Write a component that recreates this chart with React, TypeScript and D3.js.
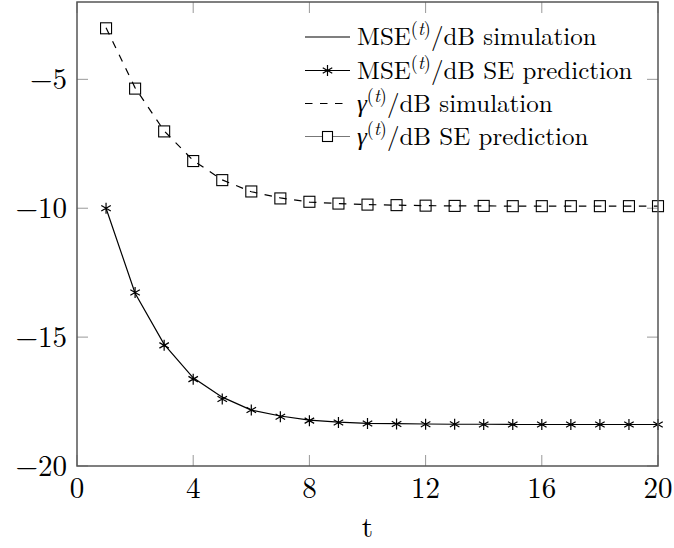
import React from 'react';
import * as d3 from 'd3';

const tValues = [1, 2, 3, 4, 5, 6, 7, 8, 9, 10, 11, 12, 13, 14, 15, 16, 17, 18, 19, 20];
const mseSimulation = [-10.0, -13.3, -15.28, -16.58, -17.33, -17.83, -18.06, -18.22, -18.3, -18.35, -18.36, -18.37, -18.38, -18.38, -18.39, -18.39, -18.39, -18.39, -18.39, -18.39];
const mseSE = [-10.0, -13.27, -15.32, -16.63, -17.4, -17.83, -18.09, -18.24, -18.31, -18.35, -18.37, -18.38, -18.38, -18.39, -18.39, -18.39, -18.39, -18.39, -18.39, -18.39];
const gammaSimulation = [-3.0, -5.33, -7.0, -8.15, -8.9, -9.36, -9.6, -9.76, -9.82, -9.86, -9.88, -9.9, -9.91, -9.91, -9.92, -9.92, -9.92, -9.92, -9.92, -9.92];
const gammaSE = [-3.02, -5.36, -7.02, -8.17, -8.91, -9.35, -9.62, -9.75, -9.82, -9.86, -9.88, -9.9, -9.91, -9.91, -9.92, -9.92, -9.92, -9.92, -9.92, -9.92];
const xTicks = [0, 4, 8, 12, 16, 20];
const yTicks = [-20, -15, -10, -5];

const W = 674;
const H = 548;
const plot = { left: 77, right: 658, top: 2, bottom: 466 };
const FONT = '"Latin Modern Roman", "Liberation Serif"';

const x = d3.scaleLinear().domain([0, 20]).range([plot.left, plot.right]);
const y = d3.scaleLinear().domain([-20, -2]).range([plot.bottom, plot.top]);

const Star = ({ cx, cy, r = 5.5 }: { cx: number; cy: number; r?: number }) => {
  const arms = [90, 30, -30].map(a => {
    const rad = (a * Math.PI) / 180;
    const dx = r * Math.cos(rad);
    const dy = r * Math.sin(rad);
    return `M${cx - dx},${cy + dy}L${cx + dx},${cy - dy}`;
  });
  return <path d={arms.join('')} stroke="#000" strokeWidth={1.2} fill="none" />;
};

const Square = ({ cx, cy, s = 11 }: { cx: number; cy: number; s?: number }) => (
  <rect x={cx - s / 2} y={cy - s / 2} width={s} height={s} fill="none" stroke="#000" strokeWidth={1.1} />
);

// legend label: base, superscript (t), rest
const Label = ({ x0, y0, base, italicBase, rest }: { x0: number; y0: number; base: string; italicBase?: boolean; rest: string }) => (
  <text x={x0} y={y0}>
    <tspan fontStyle={italicBase ? 'italic' : 'normal'}>{base}</tspan>
    <tspan fontSize={18} dy={-10}>(</tspan>
    <tspan fontSize={18} fontStyle="italic">t</tspan>
    <tspan fontSize={18}>)</tspan>
    <tspan dy={10}>{rest}</tspan>
  </text>
);

export default function App() {
  const line = d3.line<number>().x((_, i) => x(tValues[i])).y(d => y(d));

  const legendRows = [37, 70.5, 103.5, 136.5];
  const lx0 = 305;
  const lx1 = 350;
  const tx = 357;
  const lfs = 25;
  const font = { fontFamily: FONT };

  return (
    <svg width={W} height={H} style={{ position: 'absolute', left: 0, top: 0, background: '#fff' }}>
      {/* ticks, inside on all four sides */}
      {xTicks.map(v => (
        <g key={'xt' + v}>
          <line x1={x(v)} x2={x(v)} y1={plot.bottom} y2={plot.bottom - 11} stroke="#999" strokeWidth={1} />
          <line x1={x(v)} x2={x(v)} y1={plot.top} y2={plot.top + 11} stroke="#999" strokeWidth={1} />
          <text x={x(v)} y={498} fontSize={29} textAnchor="middle" fill="#000" style={font}>{v}</text>
        </g>
      ))}
      {yTicks.map(v => (
        <g key={'yt' + v}>
          <line x1={plot.left} x2={plot.left + 11} y1={y(v)} y2={y(v)} stroke="#999" strokeWidth={1} />
          <line x1={plot.right} x2={plot.right - 11} y1={y(v)} y2={y(v)} stroke="#999" strokeWidth={1} />
          <text x={67} y={y(v) + 10} fontSize={29} textAnchor="end" fill="#000" style={font}>{'\u2212' + Math.abs(v)}</text>
        </g>
      ))}

      {/* simulation curves */}
      <path d={line(mseSimulation) ?? ''} fill="none" stroke="#000" strokeWidth={1.2} />
      <path d={line(gammaSimulation) ?? ''} fill="none" stroke="#000" strokeWidth={1.2} strokeDasharray="7.5,7.5" />

      {/* SE predictions */}
      {mseSE.map((v, i) => <Star key={'s' + i} cx={x(tValues[i])} cy={y(v)} />)}
      {gammaSE.map((v, i) => <Square key={'q' + i} cx={x(tValues[i])} cy={y(v)} />)}

      {/* frame */}
      <rect x={plot.left} y={plot.top} width={plot.right - plot.left} height={plot.bottom - plot.top} fill="none" stroke="#555" strokeWidth={1.5} />

      <text x={(plot.left + plot.right) / 2} y={537} fontSize={29} textAnchor="middle" fill="#000" style={font}>t</text>

      {/* legend */}
      <g fontSize={lfs} fill="#000" style={font}>
        <line x1={lx0} x2={lx1} y1={legendRows[0]} y2={legendRows[0]} stroke="#000" strokeWidth={1.2} />
        <Label x0={tx} y0={legendRows[0] + 8} base="MSE" rest="/dB simulation" />

        <line x1={lx0} x2={lx1} y1={legendRows[1]} y2={legendRows[1]} stroke="#000" strokeWidth={1.2} />
        <Star cx={(lx0 + lx1) / 2} cy={legendRows[1]} />
        <Label x0={tx} y0={legendRows[1] + 8} base="MSE" rest="/dB SE prediction" />

        <line x1={lx0} x2={lx1} y1={legendRows[2]} y2={legendRows[2]} stroke="#000" strokeWidth={1.2} strokeDasharray="7.5,7.5" />
        <Label x0={tx} y0={legendRows[2] + 8} base="γ" italicBase rest="/dB simulation" />

        <line x1={lx0} x2={lx1} y1={legendRows[3]} y2={legendRows[3]} stroke="#777" strokeWidth={1.2} />
        <rect x={(lx0 + lx1) / 2 - 5} y={legendRows[3] - 5} width={10} height={10} fill="#fff" stroke="#000" strokeWidth={1.1} />
        <Label x0={tx} y0={legendRows[3] + 8} base="γ" italicBase rest="/dB SE prediction" />
      </g>
    </svg>
  );
}
